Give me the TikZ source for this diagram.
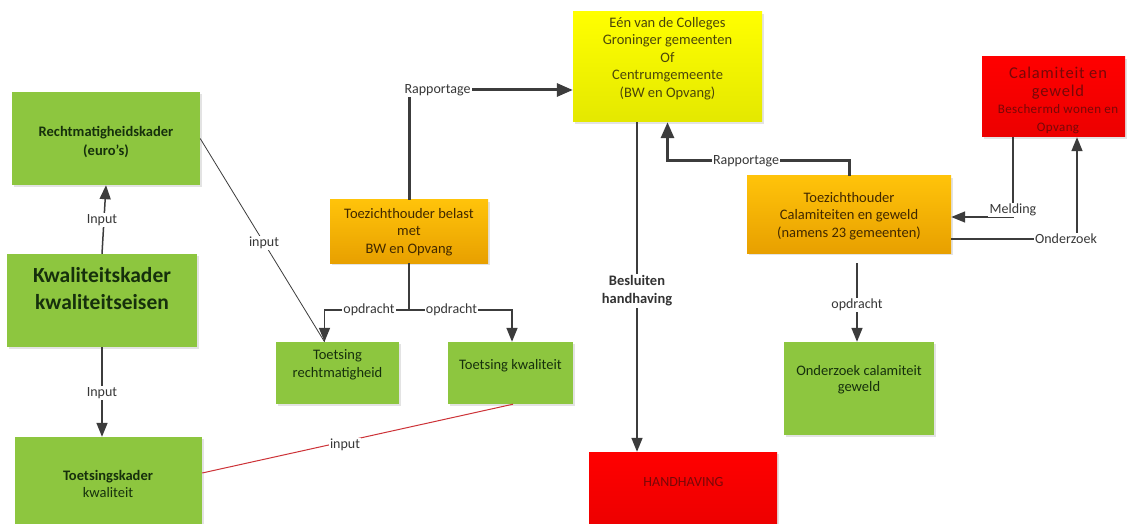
\documentclass[tikz,border=0pt]{standalone}
\usepackage{fontspec}
\setmainfont{Carlito}
\usetikzlibrary{arrows.meta,shadows,calc}
\definecolor{gfill}{RGB}{141,198,63}
\definecolor{gtext}{RGB}{22,48,12}
\definecolor{otop}{RGB}{255,195,10}
\definecolor{obot}{RGB}{232,160,0}
\definecolor{otext}{RGB}{65,40,0}
\definecolor{ytop}{RGB}{255,255,0}
\definecolor{ybot}{RGB}{228,232,0}
\definecolor{ytext}{RGB}{75,70,10}
\definecolor{rtop}{RGB}{255,0,0}
\definecolor{rbot}{RGB}{236,0,0}
\definecolor{rtext}{RGB}{120,8,8}
\definecolor{lcol}{RGB}{60,60,60}
\definecolor{ltext}{RGB}{55,55,55}
\definecolor{redline}{RGB}{205,50,55}
\tikzset{
  boxbase/.style={rectangle, inner sep=0pt, draw=none,
    drop shadow={shadow xshift=2pt, shadow yshift=-2pt, opacity=0.22}},
  greenbox/.style={boxbase, fill=gfill},
  orangebox/.style={boxbase, top color=otop, bottom color=obot},
  yellowbox/.style={boxbase, top color=ytop, bottom color=ybot},
  redbox/.style={boxbase, top color=rtop, bottom color=rbot},
  txt/.style={align=center, inner sep=0pt, font=\fontsize{14.5}{17.5}\selectfont},
  gtxt/.style={txt, text=gtext},
  otxt/.style={txt, text=otext},
  ytxt/.style={txt, text=ytext},
  rtxt/.style={txt, text=rtext},
  lbl/.style={fill=white, inner sep=1.2pt, font=\fontsize{14}{16}\selectfont, text=ltext},
  conn/.style={draw=lcol, line width=1.5pt},
  rconn/.style={draw=lcol, line width=3pt},
  thinconn/.style={draw=lcol, line width=0.8pt},
  redconn/.style={draw=redline, line width=1pt},
  arr/.style={-{Triangle[length=14pt,width=11pt]}},
  bigarr/.style={-{Triangle[length=16pt,width=13pt]}}
}
\begin{document}
\begin{tikzpicture}[x=1pt,y=-1pt]
\useasboundingbox[fill=white] (0,0) rectangle (1128,524);
\begin{scope}
\clip (0,0) rectangle (1128,524);
% boxes
\node[greenbox, minimum width=188pt, minimum height=93pt] (rk) at (106,138.5) {};
\node[greenbox, minimum width=190pt, minimum height=93pt] (kk) at (102,300.5) {};
\node[greenbox, minimum width=187.5pt, minimum height=93pt] (tk) at (108.25,483.5) {};
\node[orangebox, minimum width=158pt, minimum height=63pt] (tb) at (409,231.5) {};
\node[greenbox, minimum width=123pt, minimum height=62pt] (tr) at (337.5,373) {};
\node[greenbox, minimum width=125pt, minimum height=62pt] (tkw) at (510.5,373) {};
\node[yellowbox, minimum width=189pt, minimum height=110pt] (yb) at (667.5,67) {};
\node[redbox, minimum width=188pt, minimum height=78pt] (hh) at (683,491) {};
\node[orangebox, minimum width=204pt, minimum height=77pt] (tc) at (849,214.5) {};
\node[redbox, minimum width=143pt, minimum height=80pt] (rb) at (1053.5,97) {};
\node[greenbox, minimum width=150pt, minimum height=93pt] (oc) at (859,388.5) {};
\end{scope}
% box texts
\node[gtxt, font=\bfseries\fontsize{14.5}{18.5}\selectfont] (rkt) at (106,142) {Rechtmatigheidskader\\(euro’s)};
\node[gtxt, font=\bfseries\fontsize{21.5}{27}\selectfont] (kkt) at (102,289) {Kwaliteitskader\\kwaliteitseisen};
\node[gtxt] (tkt) at (108,484) {{\bfseries Toetsingskader}\\kwaliteit};
\node[otxt] (tbt) at (409,232) {Toezichthouder belast\\met\\BW en Opvang};
\node[gtxt] (trt) at (337.5,365) {Toetsing\\rechtmatigheid};
\node[gtxt] (tkwt) at (510.5,365.5) {Toetsing kwaliteit};
\node[ytxt] (ybt) at (667.5,58.5) {Eén van de Colleges\\Groninger gemeenten\\Of\\Centrumgemeente\\(BW en Opvang)};
\node[rtxt, font=\fontsize{14}{17}\selectfont] (hht) at (683.5,482) {HANDHAVING};
\node[otxt] (tct) at (849,216) {Toezichthouder\\Calamiteiten en geweld\\(namens 23 gemeenten)};
\node[rtxt] (rbt) at (1058,100.5) {\fontsize{16.5}{21}\selectfont\addfontfeatures{LetterSpace=5}Calamiteit en\\
  \fontsize{16.5}{21}\selectfont\addfontfeatures{LetterSpace=5}geweld\\
  \fontsize{13}{18}\selectfont\addfontfeatures{LetterSpace=3}Beschermd wonen en\\
  \fontsize{13}{17}\selectfont\addfontfeatures{LetterSpace=3}Opvang};
\node[gtxt, font=\fontsize{14.5}{16}\selectfont] (oct) at (859,380) {Onderzoek calamiteit\\geweld};
% coordinates
\coordinate (rp1) at (409,90);
\coordinate (op) at (409,310);
\coordinate (trtip) at ($(tr.north)+(-13,0)$);
\coordinate (tkwtip) at ($(tkw.north)+(1.5,0)$);
\coordinate (rs) at ($(tkw.south)+(2.5,0)$);
\coordinate (re) at ($(tk.east)+(0,-10.5)$);
\coordinate (bs) at ($(yb.south)+(-30.5,0)$);
\coordinate (be) at ($(hh.north)+(-46,0)$);
\coordinate (rp2) at (849,161);
\coordinate (mc) at (1013,217);
\coordinate (oz) at (1077,239);
\coordinate (ocs) at ($(tc.south -| oc.north)+(-2,10)$);
\coordinate (oce) at ($(oc.north)+(-2,0)$);
% connectors
\draw[conn, arr] (kk.north) -- (rk.south);
\draw[conn, arr] (kk.south) -- (kk.south |- tk.north);
\draw[thinconn] (rk.east) -- (trtip);
\draw[redconn] (rs) -- (re);
\draw[rconn, bigarr] (tb.north) -- (rp1) -- (rp1 -| yb.west);
\draw[conn] (tb.south) -- (op);
\draw[conn, arr] (op) -- (op -| trtip) -- (trtip);
\draw[conn, arr] (op) -- (op -| tkwtip) -- (tkwtip);
\draw[conn, arr] (bs) -- (be);
\draw[rconn, bigarr] (tc.north) -- (rp2) -- (rp2 -| yb.south) -- (yb.south);
\draw[conn, arr] (rb.south -| mc) -- (mc) -- (mc -| tc.east);
\draw[conn, arr] (tc.east |- oz) -- (oz) -- (oz |- rb.south);
\draw[conn, arr] (ocs) -- (oce);
% labels
\node[lbl] (l1) at (102,220) {Input};
\node[lbl] (l2) at (102,393) {Input};
\node[lbl] (l3) at (264,243) {input};
\node[lbl] (l4) at (345,445) {input};
\node[lbl] (l5) at (437.5,90) {Rapportage};
\node[lbl] (l6) at (369,310) {opdracht};
\node[lbl] (l7) at (451.5,310) {opdracht};
\node[lbl, font=\bfseries\fontsize{14.5}{18}\selectfont, align=center, text=black!80] (l8) at (637,291) {Besluiten\\handhaving};
\node[lbl] (l9) at (746,161) {Rapportage};
\node[lbl] (l10) at (1013,210) {Melding};
\node[lbl] (l11) at (1066,239) {Onderzoek};
\node[lbl] (l12) at (857,305) {opdracht};
\end{tikzpicture}
\end{document}
